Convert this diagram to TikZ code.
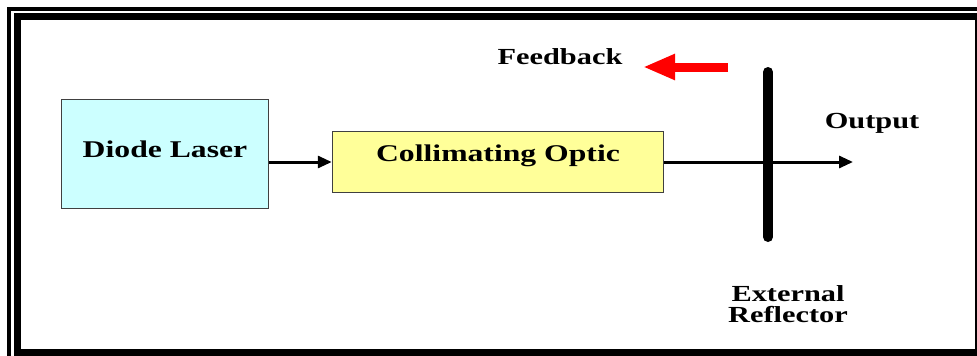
\documentclass[tikz,border=0pt]{standalone}
\usepackage{fontspec}
\setmainfont{Liberation Serif}[FakeStretch=1.32]
\usepackage{xcolor}
\usetikzlibrary{arrows.meta,positioning}
\definecolor{lasercyan}{HTML}{CCFFFF}
\definecolor{opticyellow}{HTML}{FFFF99}
\definecolor{boxedge}{HTML}{404040}
\definecolor{fbred}{HTML}{FF0000}
\tikzset{
  blockbox/.style={draw=boxedge,line width=1.5pt,inner sep=0pt,
                   font=\fontsize{24}{26}\selectfont\bfseries},
  lbltext/.style={inner sep=0pt,font=\fontsize{23}{21.5}\selectfont\bfseries},
  beamarr/.style={-{Triangle[length=14pt,width=12pt]},line width=3pt},
  fbarr/.style={-{Triangle[length=32pt,width=24pt]},line width=9pt,draw=fbred},
  mirror/.style={line width=10pt,line cap=round}
}

\begin{document}
\begin{tikzpicture}[x=1pt,y=-1pt]
  \useasboundingbox (0,0) rectangle (977,356);
  % double frame
  \draw[line width=4pt] (9,8.5) rectangle (990,365);
  \draw[line width=7pt] (17.5,16.5) rectangle (978.5,352.5);
  % blocks
  \node[blockbox,fill=lasercyan,minimum width=207pt,minimum height=109pt,
        text height=15pt,text depth=9pt] (laser) at (165,154) {Diode Laser};
  \node[blockbox,fill=opticyellow,minimum width=331pt,minimum height=61pt,
        text height=11pt,text depth=13pt] (optic) at (498,162) {Collimating Optic};
  \coordinate (beamout) at (853,162);
  \coordinate (refltop) at (768,72);
  \coordinate (reflbot) at (768,237);
  \coordinate (fbtail) at (728,67);
  \coordinate (fbtip) at (643,67);
  % beam and reflector
  \draw[beamarr] (optic.west -| laser.east) -- (optic.west);
  \draw[beamarr] (optic.east) -- (beamout);
  \draw[mirror] (refltop) -- (reflbot);
  \draw[fbarr] (fbtail) -- (fbtip);
  % labels
  \node[lbltext,anchor=base] (fblbl) at (560,64) {Feedback};
  \node[lbltext,anchor=base] (outlbl) at (872,128) {Output};
  \node[lbltext,align=center] (refllbl) at (788,304) {External\\Reflector};
\end{tikzpicture}
\end{document}
